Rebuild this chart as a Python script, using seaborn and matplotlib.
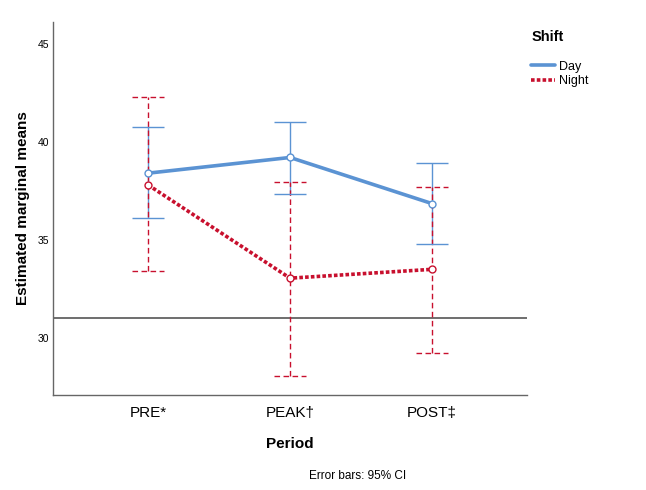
import numpy as np
import pandas as pd
import matplotlib
matplotlib.use("Agg")
import matplotlib.pyplot as plt
import seaborn as sns
from matplotlib.lines import Line2D

# Estimated marginal means and 95% CI
periods = ["PRE*", "PEAK\u2020", "POST\u2021"]
day_mean = [38.4, 39.2, 36.85]
day_low = [36.1, 37.35, 34.8]
day_high = [40.75, 41.0, 38.9]
night_mean = [37.8, 33.05, 33.5]
night_low = [33.4, 28.05, 29.25]
night_high = [42.3, 37.95, 37.7]
ref_line = 31.0

df = pd.DataFrame({
    "Period": periods * 2,
    "Shift": ["Day"] * 3 + ["Night"] * 3,
    "mean": day_mean + night_mean,
})

sns.set_style("white")
plt.rcParams["font.family"] = ["Liberation Sans", "DejaVu Sans"]
plt.rcParams["text.color"] = "black"
plt.rcParams["axes.labelcolor"] = "black"
plt.rcParams["xtick.color"] = "black"
plt.rcParams["ytick.color"] = "black"

day_col = "#5b93d3"
night_col = "#c8102e"

fig = plt.figure(figsize=(6.46, 4.90), dpi=100)
ax = fig.add_axes([0.082, 0.194, 0.734, 0.761])

sns.lineplot(data=df, x="Period", y="mean", hue="Shift", style="Shift",
             palette={"Day": day_col, "Night": night_col},
             dashes={"Day": "", "Night": (1, 0.6)},
             linewidth=2.6, markers={"Day": "o", "Night": "o"},
             markersize=5, ax=ax, legend=False)
# hollow markers as in the original
for ln in ax.lines:
    ln.set_markerfacecolor("white")
    ln.set_markeredgecolor(ln.get_color())
    ln.set_markeredgewidth(1.0)
    ln.set_zorder(3)

# error bars
xs = np.arange(len(periods))
cap = 0.113
ax.vlines(xs, day_low, day_high, color=day_col, lw=1.0, zorder=1)
ax.hlines(day_low, xs - cap, xs + cap, color=day_col, lw=1.0)
ax.hlines(day_high, xs - cap, xs + cap, color=day_col, lw=1.0)
ax.vlines(xs, night_low, night_high, color=night_col, lw=1.0,
          linestyles=(0, (4, 2.5)), zorder=1)
ax.hlines(night_low, xs - cap, xs + cap, color=night_col, lw=1.0,
          linestyles=(0, (4, 2.5)))
ax.hlines(night_high, xs - cap, xs + cap, color=night_col, lw=1.0,
          linestyles=(0, (4, 2.5)))

ax.axhline(ref_line, color="#555555", lw=1.2, zorder=0)

ax.set_xlim(-0.67, 2.67)
ax.set_ylim(27.1, 46.1)
ax.set_yticks([30, 35, 40, 45])
ax.tick_params(axis="y", length=0, labelsize=7.5, pad=3)
ax.tick_params(axis="x", length=0, labelsize=11, pad=8)
for s in ["top", "right"]:
    ax.spines[s].set_visible(False)
for s in ["left", "bottom"]:
    ax.spines[s].set_color("#666666")
    ax.spines[s].set_linewidth(1.0)

ax.set_xlabel("Period", fontsize=11, fontweight="bold", labelpad=12)
ax.set_ylabel("Estimated marginal means", fontsize=11, fontweight="bold", labelpad=5)

# legend
handles = [Line2D([], [], color=day_col, lw=2.6),
           Line2D([], [], color=night_col, lw=2.6, linestyle=(0, (1, 0.6)))]
leg = fig.legend(handles, ["Day", "Night"], title="Shift",
                 loc="upper left", bbox_to_anchor=(0.805, 0.962),
                 frameon=False, fontsize=9, handlelength=1.9,
                 handletextpad=0.3, labelspacing=0.2)
leg.get_title().set_fontweight("bold")
leg.get_title().set_fontsize(10.5)
leg._legend_box.sep = 12
leg._legend_box.align = "left"

fig.text(0.553, 0.022, "Error bars: 95% CI", ha="center", fontsize=8.5)

fig.savefig("out.png", dpi=100)
